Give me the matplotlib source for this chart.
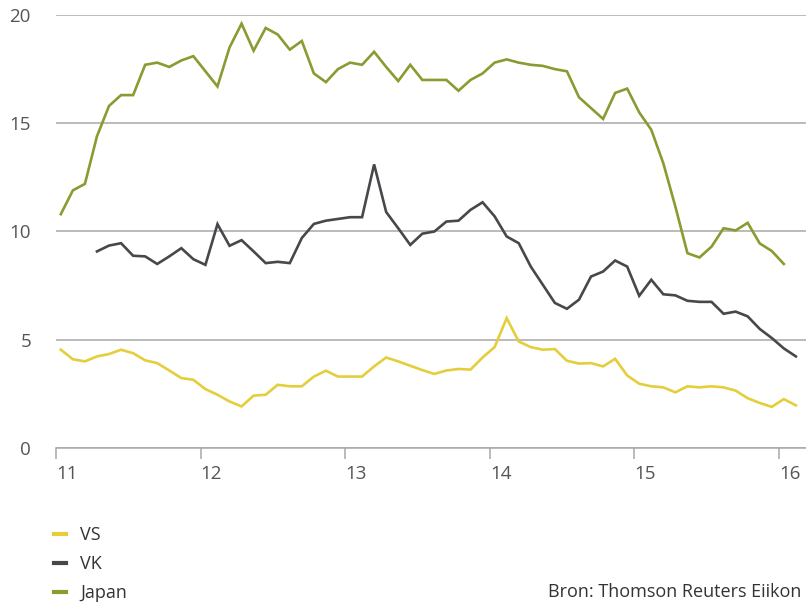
import matplotlib
matplotlib.use("Agg")
import matplotlib.pyplot as plt
import numpy as np

plt.rcParams["font.family"] = ["Open Sans", "DejaVu Sans"]

# monthly readings, Jan 2011 onwards (VK starts in April 2011)
vs = [4.54, 4.1, 4.0, 4.23, 4.34, 4.54, 4.38, 4.05, 3.92, 3.58, 3.23, 3.15, 2.72, 2.46, 2.15, 1.92,
      2.42, 2.46, 2.92, 2.85, 2.85, 3.3, 3.57, 3.3, 3.3, 3.3, 3.77, 4.18, 4.0, 3.8, 3.6, 3.42,
      3.58, 3.65, 3.62, 4.18, 4.66, 6.0, 4.92, 4.66, 4.54, 4.57, 4.03, 3.9, 3.92, 3.77, 4.12, 3.35,
      2.97, 2.85, 2.8, 2.57, 2.85, 2.8, 2.85, 2.8, 2.65, 2.3, 2.08, 1.9, 2.26, 1.97]
vk = [9.08, 9.35, 9.46, 8.88, 8.85, 8.5, 8.85, 9.23, 8.72, 8.46, 10.34, 9.34, 9.6,
      9.08, 8.54, 8.6, 8.54, 9.7, 10.35, 10.5, 10.58, 10.66, 10.66, 13.1, 10.9, 10.15, 9.38, 9.9, 10.0,
      10.46, 10.5, 11.0, 11.35, 10.7, 9.77, 9.46, 8.38, 7.54, 6.7, 6.43, 6.85, 7.92, 8.15, 8.66, 8.38,
      7.03, 7.77, 7.1, 7.05, 6.8, 6.75, 6.75, 6.2, 6.3, 6.08, 5.5, 5.08, 4.6, 4.23]
japan = [10.8, 11.9, 12.2, 14.4, 15.8, 16.3, 16.3, 17.7, 17.8, 17.6, 17.9, 18.1, 17.4, 16.7, 18.5, 19.6,
         18.35, 19.4, 19.1, 18.4, 18.8, 17.3, 16.9, 17.5, 17.8, 17.7, 18.3, 17.6, 16.95, 17.7, 17.0, 17.0,
         17.0, 16.5, 17.0, 17.3, 17.8, 17.95, 17.8, 17.7, 17.65, 17.5, 17.4, 16.2, 15.7, 15.2, 16.4, 16.6,
         15.5, 14.7, 13.15, 11.15, 9.0, 8.8, 9.3, 10.15, 10.05, 10.4, 9.45, 9.1, 8.5]
vs_start, vk_start, japan_start = 0, 3, 0

years = [11, 12, 13, 14, 15, 16]
yticks = [0, 5, 10, 15, 20]

COLORS = {"VS": "#E4CE3C", "VK": "#4A474C", "Japan": "#8B9A31"}
GRID = "#A8A8A8"


def months_to_x(values, start):
  return 11 + (np.arange(len(values)) + start + 0.4) / 12


fig = plt.figure(figsize=(8.06, 6.04), dpi=100)
ax = fig.add_axes([56 / 806, 1 - 448 / 604, 750 / 806, 433 / 604])

ax.plot(months_to_x(vs, vs_start), vs, color=COLORS["VS"], lw=1.9, label="VS", solid_joinstyle="miter")
ax.plot(months_to_x(vk, vk_start), vk, color=COLORS["VK"], lw=1.9, label="VK", solid_joinstyle="miter")
ax.plot(months_to_x(japan, japan_start), japan, color=COLORS["Japan"], lw=1.9, label="Japan", solid_joinstyle="miter")

ax.set_xlim(11, 11 + 750 / 144.6)
ax.set_ylim(0, 20)

ax.set_yticks(yticks)
ax.set_yticklabels([str(t) for t in yticks])
ax.yaxis.grid(True, color=GRID, lw=1.1)
ax.set_axisbelow(True)
ax.tick_params(axis="y", length=0, pad=18, labelsize=13.5, labelcolor="#555555")

ax.set_xticks(years)
ax.set_xticklabels([str(y) for y in years], ha="left")
ax.tick_params(axis="x", direction="out", length=8, width=1.1, color=GRID, pad=4,
               labelsize=13.5, labelcolor="#555555")

for side in ("top", "right", "left"):
  ax.spines[side].set_visible(False)
ax.spines["bottom"].set_color(GRID)
ax.spines["bottom"].set_linewidth(1.1)

leg = fig.legend(loc="upper left", bbox_to_anchor=(38 / 806, 1 - 510 / 604), frameon=False,
                 handlelength=0.65, handletextpad=0.8, labelspacing=0.6, fontsize=13)
for t in leg.get_texts():
  t.set_color("#333333")
for h in leg.legend_handles:
  h.set_linewidth(3)

fig.text(548 / 806, 1 - 592 / 604, "Bron: Thomson Reuters Eiikon", fontsize=13,
         color="#333333", ha="left", va="center")

fig.savefig("out.png", dpi=100, facecolor="white")
